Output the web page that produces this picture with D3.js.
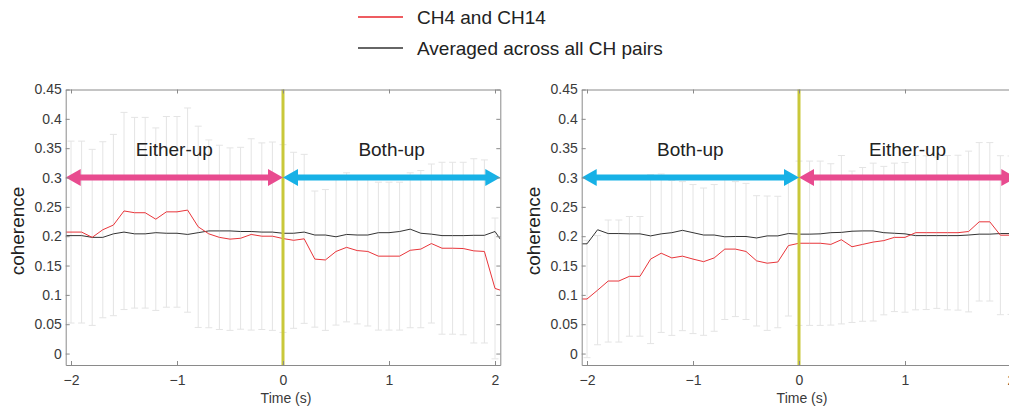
<!DOCTYPE html>
<head>
  <meta charset="utf-8">
  <script src="https://cdn.jsdelivr.net/npm/d3@7"></script>
  <style>
    body { margin:0; background:#fff; }
    svg { display:block; font-family:"Liberation Sans", Arial, sans-serif; }
  </style>
</head>

<body>
  <script>
  // time points (s) where the coherence was sampled
  var time = [-2.0,-1.9,-1.8,-1.7,-1.6,-1.5,-1.4,-1.3,-1.2,-1.1,-1.0,
              -0.9,-0.8,-0.7,-0.6,-0.5,-0.4,-0.3,-0.2,-0.1,0.0,
              0.1,0.2,0.3,0.4,0.5,0.6,0.7,0.8,0.9,1.0,
              1.1,1.2,1.3,1.4,1.5,1.6,1.7,1.8,1.9,2.0];

  // left panel: either-up -> both-up
  var leftRed = [0.207,0.207,0.198,0.211,0.219,0.243,0.240,0.240,0.229,0.2415,0.2415,
                 0.2445,0.216,0.204,0.198,0.195,0.1965,0.203,0.200,0.200,0.196,
                 0.193,0.1955,0.161,0.1595,0.174,0.181,0.1755,0.174,0.166,0.166,
                 0.166,0.176,0.178,0.1875,0.1795,0.1795,0.179,0.175,0.174,0.111];
  var leftBlack = [0.201,0.201,0.198,0.198,0.204,0.207,0.204,0.204,0.206,0.205,0.205,
                   0.203,0.206,0.209,0.209,0.209,0.208,0.208,0.207,0.207,0.205,
                   0.205,0.207,0.202,0.202,0.199,0.203,0.202,0.202,0.206,0.206,
                   0.208,0.212,0.205,0.2035,0.201,0.201,0.201,0.2015,0.2015,0.208];
  var leftSd = [0.155,0.155,0.150,0.150,0.1545,0.168,0.1625,0.1625,0.1555,0.1625,0.1625,
                0.174,0.1715,0.160,0.157,0.1555,0.155,0.163,0.159,0.1605,0.160,
                0.150,0.144,0.116,0.120,0.1255,0.127,0.125,0.127,0.126,0.126,
                0.126,0.132,0.134,0.1355,0.1465,0.1465,0.147,0.157,0.156,0.120];
  // values where the lines meet the box edges [left, right]
  var leftRedEdge = [0.207, 0.108];
  var leftBlackEdge = [0.201, 0.195];

  // right panel: both-up -> either-up
  var rightRed = [0.093,0.108,0.1236,0.1236,0.1316,0.1316,0.161,0.171,0.163,0.166,0.161,
                  0.1566,0.163,0.178,0.178,0.174,0.158,0.154,0.156,0.184,0.188,
                  0.188,0.188,0.186,0.194,0.182,0.186,0.190,0.1925,0.198,0.198,
                  0.206,0.206,0.206,0.206,0.206,0.208,0.2245,0.2245,0.2017,0.2017];
  var rightBlack = [0.187,0.211,0.2045,0.2045,0.204,0.204,0.2005,0.204,0.206,0.210,0.206,
                    0.202,0.202,0.199,0.1995,0.1995,0.197,0.2005,0.2005,0.2045,0.2035,
                    0.2035,0.204,0.206,0.2065,0.2085,0.209,0.209,0.206,0.205,0.204,
                    0.201,0.201,0.201,0.201,0.201,0.202,0.2035,0.2035,0.2045,0.2045];
  var rightSd = [0.100,0.093,0.104,0.104,0.102,0.102,0.144,0.135,0.132,0.127,0.127,
                 0.1255,0.125,0.120,0.115,0.116,0.111,0.1145,0.112,0.120,0.140,
                 0.140,0.140,0.1375,0.1435,0.129,0.131,0.1345,0.1265,0.1265,0.1275,
                 0.1315,0.131,0.129,0.1315,0.132,0.137,0.135,0.135,0.1355,0.135];
  var rightRedEdge = [0.093, 0.2017];
  var rightBlackEdge = [0.187, 0.2045];

  var xTicks = [-2, -1, 0, 1, 2];
  var yTicks = [0, 0.05, 0.1, 0.15, 0.2, 0.25, 0.3, 0.35, 0.4, 0.45];
  var xDomain = [-2.05, 2.05];
  var yDomain = [-0.0195, 0.45];

  var legendNames = ["CH4 and CH14", "Averaged across all CH pairs"];
  var legendColors = ["#e8262c", "#333333"];

  var pink = "#e84b8f", blue = "#17b1e6";

  var width = 1009, height = 409;
  var svg = d3.select("body").append("svg")
    .attr("width", width).attr("height", height);

  // legend at the top
  var leg = svg.append("g");
  legendNames.forEach(function(name, i) {
    var y = 17 + i * 31;
    leg.append("line").attr("x1", 358).attr("x2", 403).attr("y1", y).attr("y2", y)
      .attr("stroke", legendColors[i]).attr("stroke-width", 1.5);
    leg.append("text").attr("x", 417).attr("y", y + 7)
      .attr("font-size", "19px").attr("fill", "#222").text(name);
  });

  function drawPanel(left, red, black, sd, redEdge, blackEdge, firstColor, secondColor, firstName, secondName, id) {
    var x = d3.scaleLinear().domain(xDomain).range([left, left + 434.6]);
    var y = d3.scaleLinear().domain(yDomain).range([365, 89.5]);

    var g = svg.append("g");

    g.append("clipPath").attr("id", id)
      .append("rect").attr("x", x.range()[0]).attr("y", y.range()[1])
      .attr("width", x.range()[1] - x.range()[0]).attr("height", y.range()[0] - y.range()[1]);

    var plot = g.append("g").attr("clip-path", "url(#" + id + ")");

    // error bars (light gray)
    var bars = plot.selectAll(".eb").data(time).enter().append("g").attr("class", "eb")
      .attr("stroke", "#e4e4e4").attr("stroke-width", 1);
    bars.append("line")
      .attr("x1", function(d) { return x(d); }).attr("x2", function(d) { return x(d); })
      .attr("y1", function(d, i) { return y(red[i] + sd[i]); })
      .attr("y2", function(d, i) { return y(red[i] - sd[i]); });
    bars.append("line")
      .attr("x1", function(d) { return x(d) - 3.5; }).attr("x2", function(d) { return x(d) + 3.5; })
      .attr("y1", function(d, i) { return y(red[i] + sd[i]); })
      .attr("y2", function(d, i) { return y(red[i] + sd[i]); });
    bars.append("line")
      .attr("x1", function(d) { return x(d) - 3.5; }).attr("x2", function(d) { return x(d) + 3.5; })
      .attr("y1", function(d, i) { return y(red[i] - sd[i]); })
      .attr("y2", function(d, i) { return y(red[i] - sd[i]); });

    // lines, extended to the box edges
    var line = d3.line().x(function(d) { return x(d[0]); }).y(function(d) { return y(d[1]); });
    function pts(vals, edge) {
      var p = [[xDomain[0], edge[0]]];
      time.forEach(function(t, i) { p.push([t, vals[i]]); });
      p.push([xDomain[1], edge[1]]);
      return p;
    }
    plot.append("path").attr("d", line(pts(black, blackEdge)))
      .attr("fill", "none").attr("stroke", "#333").attr("stroke-width", 1);
    plot.append("path").attr("d", line(pts(red, redEdge)))
      .attr("fill", "none").attr("stroke", "#e8353a").attr("stroke-width", 1);

    // onset line at t = 0
    g.append("line").attr("x1", x(0)).attr("x2", x(0))
      .attr("y1", y.range()[0]).attr("y2", y.range()[1])
      .attr("stroke", "#c9c83a").attr("stroke-width", 3);

    // double arrows
    function arrow(xa, xb, yc, color) {
      var w = 3, hl = 15, hw = 8.5;
      var p = d3.path();
      p.moveTo(xa, yc);
      p.lineTo(xa + hl, yc - hw); p.lineTo(xa + hl, yc - w);
      p.lineTo(xb - hl, yc - w); p.lineTo(xb - hl, yc - hw);
      p.lineTo(xb, yc);
      p.lineTo(xb - hl, yc + hw); p.lineTo(xb - hl, yc + w);
      p.lineTo(xa + hl, yc + w); p.lineTo(xa + hl, yc + hw);
      p.closePath();
      g.append("path").attr("d", p.toString()).attr("fill", color);
    }
    arrow(x(xDomain[0]), x(0), y(0.3), firstColor);
    arrow(x(0), x(xDomain[1]), y(0.3), secondColor);

    g.append("text").attr("x", x(xDomain[0] / 2)).attr("y", y(0.3) - 22)
      .attr("text-anchor", "middle").attr("font-size", "19px").attr("fill", "#222").text(firstName);
    g.append("text").attr("x", x(xDomain[1] / 2)).attr("y", y(0.3) - 22)
      .attr("text-anchor", "middle").attr("font-size", "19px").attr("fill", "#222").text(secondName);

    // box with inward ticks on all sides
    var yFmt = function(d) { return d === 0 ? "0" : String(+d.toFixed(2)); };
    var axL = g.append("g").attr("transform", "translate(" + x.range()[0] + ",0)")
      .call(d3.axisLeft(y).tickValues(yTicks).tickFormat(yFmt).tickSizeInner(-4).tickSizeOuter(0).tickPadding(4));
    var axR = g.append("g").attr("transform", "translate(" + x.range()[1] + ",0)")
      .call(d3.axisRight(y).tickValues(yTicks).tickFormat("").tickSizeInner(-4).tickSizeOuter(0));
    var axB = g.append("g").attr("transform", "translate(0," + y.range()[0] + ")")
      .call(d3.axisBottom(x).tickValues(xTicks).tickFormat(d3.format("d")).tickSizeInner(-4).tickSizeOuter(0).tickPadding(10));
    var axT = g.append("g").attr("transform", "translate(0," + y.range()[1] + ")")
      .call(d3.axisTop(x).tickValues(xTicks).tickFormat("").tickSizeInner(-4).tickSizeOuter(0));
    [axL, axR, axB, axT].forEach(function(a) {
      a.selectAll("path, line").attr("stroke", "#8a8a8a");
      a.selectAll("text").attr("font-size", "14px").attr("fill", "#3a3a3a")
        .attr("font-family", "Liberation Sans, Arial, sans-serif");
    });

    g.append("text").attr("x", (x.range()[0] + x.range()[1]) / 2 + 3).attr("y", 403)
      .attr("text-anchor", "middle").attr("font-size", "14px").attr("fill", "#3a3a3a").text("Time (s)");
    g.append("text").attr("transform", "translate(" + (x.range()[0] - 41.7) + ",231) rotate(-90)")
      .attr("text-anchor", "middle").attr("font-size", "19px").attr("fill", "#222").text("coherence");
  }

  drawPanel(65.7, leftRed, leftBlack, leftSd, leftRedEdge, leftBlackEdge, pink, blue, "Either-up", "Both-up", "clipL");
  drawPanel(581.7, rightRed, rightBlack, rightSd, rightRedEdge, rightBlackEdge, blue, pink, "Both-up", "Either-up", "clipR");
  </script>
</body>
</html>
